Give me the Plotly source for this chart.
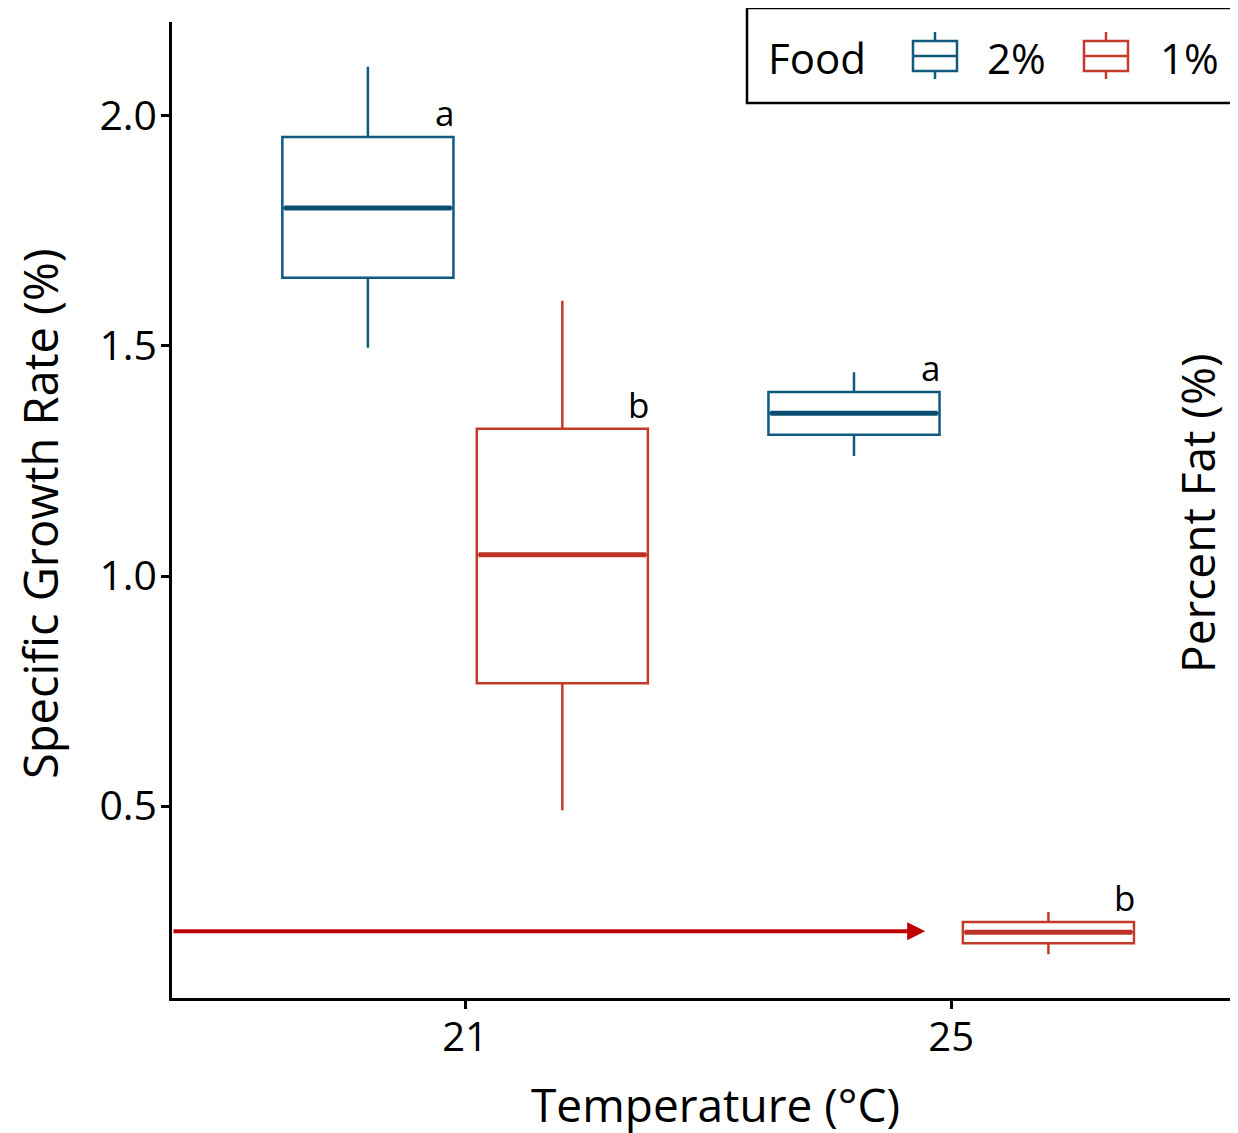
import plotly.graph_objects as go

temps = ["21", "25"]
foods = ["2%", "1%"]
colors = {"2%": "#105A80", "1%": "#C53A2B"}
median_colors = {"2%": "#0B4E72", "1%": "#BC3325"}

# box statistics per food, per temperature
upper = {"2%": [2.107, 1.443], "1%": [1.598, 0.270]}
q3 = {"2%": [1.954, 1.400], "1%": [1.320, 0.248]}
median = {"2%": [1.800, 1.354], "1%": [1.046, 0.226]}
q1 = {"2%": [1.648, 1.307], "1%": [0.767, 0.202]}
lower = {"2%": [1.496, 1.261], "1%": [0.491, 0.178]}
letters = {"2%": ["a", "a"], "1%": ["b", "b"]}

arrow_y = 0.228

FONT = "Open Sans"
offset = {"2%": -0.2, "1%": 0.2}
bw = 0.352

# page geometry (the page body adds an 8px margin)
W, H = 1238, 1133
PL, PT, PR, PB = 172, 22, 1238, 998  # plot area on screen
ML, MT = PL - 8, PT - 8
MR = W - (PR - 8)
MB = H - (PB - 8)


def px(sx):
    return (sx - PL) / (PR - PL)


def py(sy):
    return (PB - sy) / (PB - PT)


fig = go.Figure()
for f in foods:
    xs = [i + offset[f] for i in range(len(temps))]
    fig.add_trace(go.Box(
        x=xs, q1=q1[f], median=median[f], q3=q3[f],
        lowerfence=lower[f], upperfence=upper[f],
        name=f, width=bw, whiskerwidth=0,
        line=dict(color=colors[f], width=2.5),
        fillcolor="rgba(255,255,255,0)",
        boxpoints=False, hoverinfo="skip", showlegend=False,
    ))
    for i, x in enumerate(xs):
        fig.add_trace(go.Scatter(
            x=[x - bw / 2 + 0.004, x + bw / 2 - 0.004], y=[median[f][i]] * 2,
            mode="lines", line=dict(color=median_colors[f], width=5),
            showlegend=False, hoverinfo="skip",
        ))
        fig.add_annotation(
            x=x + bw / 2, y=q3[f][i], text=letters[f][i], showarrow=False,
            xanchor="center", yanchor="bottom", xshift=-9, yshift=-1,
            font=dict(family=FONT, size=35, color="black"),
        )

fig.add_annotation(
    x=0.9465, y=arrow_y, ax=-0.603, ay=arrow_y, xref="x", yref="y",
    axref="x", ayref="y", text="", showarrow=True,
    arrowhead=2, arrowsize=0.9, arrowwidth=4, arrowcolor="#C00000",
)

# axis titles
fig.add_annotation(
    x=px(715), y=py(1104), xref="paper", yref="paper", text="Temperature (°C)",
    showarrow=False, xanchor="center", yanchor="middle",
    font=dict(family=FONT, size=46, color="black"),
)
fig.add_annotation(
    x=px(40), y=py(514), xref="paper", yref="paper", text="Specific Growth Rate (%)",
    textangle=-90, showarrow=False, xanchor="center", yanchor="middle",
    font=dict(family=FONT, size=47, color="black"),
)
fig.add_annotation(
    x=px(1197), y=py(513), xref="paper", yref="paper", text="Percent Fat (%)",
    textangle=-90, showarrow=False, xanchor="center", yanchor="middle",
    font=dict(family=FONT, size=46, color="black"),
)

# custom legend
shapes = [dict(type="rect", xref="paper", yref="paper", x0=px(747), x1=px(1260),
               y0=py(103), y1=py(8), line=dict(color="black", width=2.5),
               fillcolor="white", layer="above")]
fig.add_annotation(
    x=px(766), y=py(57), xref="paper", yref="paper", text="Food", showarrow=False,
    xanchor="left", yanchor="middle", font=dict(family=FONT, size=42, color="black"),
)
for f, cx, tx in [("2%", 935, 985), ("1%", 1106, 1158)]:
    c = colors[f]
    shapes.append(dict(type="rect", xref="paper", yref="paper", x0=px(cx - 22), x1=px(cx + 22),
                       y0=py(71), y1=py(41), line=dict(color=c, width=2.5), layer="above"))
    shapes.append(dict(type="line", xref="paper", yref="paper", x0=px(cx - 22), x1=px(cx + 22),
                       y0=py(56), y1=py(56), line=dict(color=c, width=2.5), layer="above"))
    shapes.append(dict(type="line", xref="paper", yref="paper", x0=px(cx), x1=px(cx),
                       y0=py(41), y1=py(32), line=dict(color=c, width=2.5), layer="above"))
    shapes.append(dict(type="line", xref="paper", yref="paper", x0=px(cx), x1=px(cx),
                       y0=py(79), y1=py(71), line=dict(color=c, width=2.5), layer="above"))
    fig.add_annotation(
        x=px(tx), y=py(57), xref="paper", yref="paper", text=f, showarrow=False,
        xanchor="left", yanchor="middle", font=dict(family=FONT, size=42, color="black"),
    )

fig.update_layout(
    width=W, height=H,
    margin=dict(l=ML, r=MR, t=MT, b=MB, autoexpand=False),
    plot_bgcolor="white", paper_bgcolor="white",
    font=dict(family=FONT, color="black"),
    showlegend=False,
    shapes=shapes,
    xaxis=dict(
        range=[-0.603, 1.59], tickvals=[0, 1], ticktext=temps,
        showgrid=False, zeroline=False, showline=True, linecolor="black",
        linewidth=2.5, ticks="outside", ticklen=8, tickwidth=2.5,
        tickcolor="black", tickfont=dict(family=FONT, size=40),
        ticklabelstandoff=-6,
    ),
    yaxis=dict(
        range=[0.083, 2.204], tickvals=[0.5, 1.0, 1.5, 2.0],
        ticktext=["0.5", "1.0", "1.5", "2.0"],
        showgrid=False, zeroline=False, showline=True, linecolor="black",
        linewidth=2.5, ticks="outside", ticklen=8, tickwidth=2.5,
        tickcolor="black", tickfont=dict(family=FONT, size=41),
        ticklabelstandoff=-4,
    ),
)

fig.write_html("out.html")
